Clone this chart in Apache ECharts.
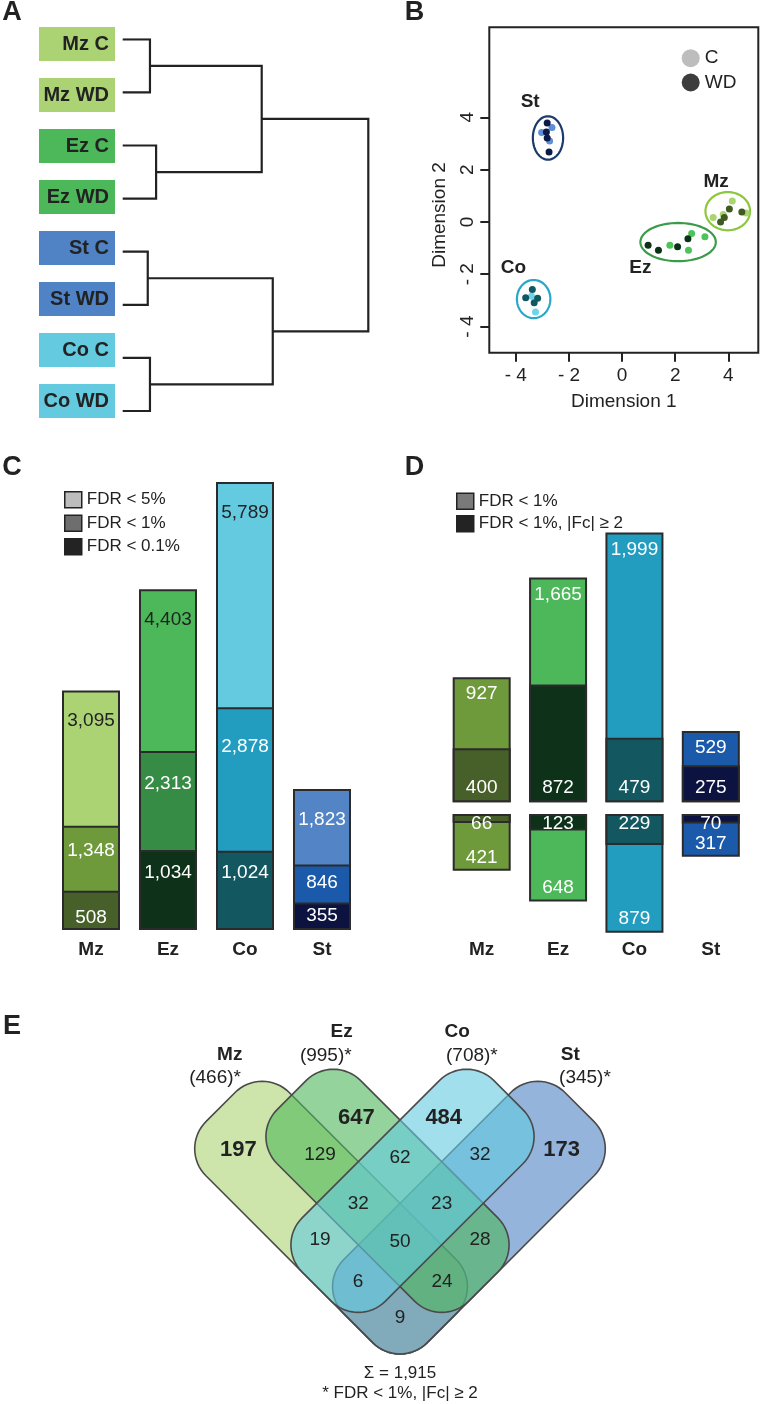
<!DOCTYPE html>
<html>
<head>
<meta charset="utf-8">
<script src="https://cdn.jsdelivr.net/npm/echarts@6/dist/echarts.min.js"></script>
<style>
  html, body { margin: 0; padding: 0; background: #fff; }
  #chart { width: 760px; height: 1404px; }
</style>
</head>
<body>
<div id="chart"></div>
<script>
const FONT = '"Liberation Sans", Arial, Helvetica, sans-serif';
const INK = '#222';

// ---- A: sample clustering ----
const leafNames = ['Mz C', 'Mz WD', 'Ez C', 'Ez WD', 'St C', 'St WD', 'Co C', 'Co WD'];
const leafGroups = ['Mz', 'Mz', 'Ez', 'Ez', 'St', 'St', 'Co', 'Co'];
// hclust style: negative = leaf (1-based), positive = earlier merge
const merges = [[-1, -2], [-3, -4], [1, 2], [-5, -6], [-7, -8], [4, 5], [3, 6]];
const mergeHeights = [0.111, 0.136, 0.566, 0.102, 0.111, 0.611, 1.0];

// ---- B: MDS plot (dimension 1, dimension 2, zone) ----
const mdsC = [
  [-2.64, 3.61, 'St'], [-3.03, 3.42, 'St'], [-2.73, 3.09, 'St'],
  [-3.41, -2.84, 'Co'], [-3.26, -3.44, 'Co'],
  [1.80, -0.89, 'Ez'], [2.62, -0.44, 'Ez'], [2.50, -1.08, 'Ez'], [3.12, -0.57, 'Ez'],
  [3.43, 0.17, 'Mz'], [3.81, 0.28, 'Mz'], [4.15, 0.80, 'Mz'], [4.67, 0.34, 'Mz']
];
const mdsWD = [
  [-2.82, 3.78, 'St'], [-2.85, 3.44, 'St'], [-2.82, 3.21, 'St'], [-2.75, 2.67, 'St'],
  [-3.38, -2.58, 'Co'], [-3.63, -2.90, 'Co'], [-3.18, -2.92, 'Co'], [-3.31, -3.09, 'Co'],
  [0.98, -0.89, 'Ez'], [1.37, -1.08, 'Ez'], [2.09, -0.95, 'Ez'], [2.48, -0.64, 'Ez'],
  [3.71, 0.00, 'Mz'], [3.85, 0.17, 'Mz'], [4.04, 0.49, 'Mz'], [4.51, 0.38, 'Mz']
];
const clusterNames = ['St', 'Co', 'Ez', 'Mz'];
const clusterCentres = [[-2.79, 3.21], [-3.33, -2.95], [2.11, -0.77], [3.98, 0.41]];
const clusterRadii = [[0.57, 0.83], [0.63, 0.73], [1.42, 0.73], [0.84, 0.73]];
const dimTicks = [-4, -2, 0, 2, 4];

// ---- C: DE genes per FDR cut-off ----
const tissues = ['Mz', 'Ez', 'Co', 'St'];
const fdr5 = [3095, 4403, 5789, 1823];
const fdr1 = [1348, 2313, 2878, 846];
const fdr01 = [508, 1034, 1024, 355];

// ---- D: up / down regulated ----
const upAll = [927, 1665, 1999, 529];
const upFc = [400, 872, 479, 275];
const downAll = [421, 648, 879, 317];
const downFc = [66, 123, 229, 70];

// ---- E: venn ----
const vennSets = ['Mz', 'Ez', 'Co', 'St'];
const vennTotals = [466, 995, 708, 345];
const vennCounts = [197, 647, 484, 173, 129, 62, 32, 32, 23, 19, 50, 28, 6, 24, 9];

// ---- colours and layout ----
const shades = {
  Mz: ['#acd373', '#6f9a3c', '#475f28'],
  Ez: ['#4cb85a', '#378c45', '#0d3219'],
  Co: ['#64cae0', '#229dc0', '#135860'],
  St: ['#5284c6', '#1b5aab', '#0c1340']
};
const dotColours = {
  St: ['#5b8fd6', '#0c1a48'], Co: ['#6fd4ea', '#0f5963'],
  Ez: ['#4cc45a', '#0b3219'], Mz: ['#a9d56e', '#3e5b21']
};
const ringColours = ['#1c3a6e', '#2aa6c9', '#3a9b48', '#8cc63f'];
const clusterLabelPos = [[-3.46, 4.58], [-4.09, -1.77], [0.69, -1.77], [3.54, 1.53]];
const dTotalShade = [1, 0, 1, 1];
const cGap1 = [16, 23, 30, 9];
const cGap2 = [18, 13, 13, -1];

// venn geometry in lattice cells (u: down-right, v: down-left)
const CELL = 58.9, VX = 400, VY = 1203.3, VENN_R = 0.65;
const vennBox = [[-3.31, 2, 0, 2], [-2.6, 2, -1, 1], [-1, 1, -2.6, 2], [0, 2, -3.31, 2]];
const vennFill = ['rgba(172,211,115,0.6)', 'rgba(76,184,90,0.6)', 'rgba(98,201,224,0.6)', 'rgba(79,130,197,0.6)'];
const vennDrawOrder = [0, 3, 1, 2];
const vennCells = [[-2.58, 1.3], [-1.55, -0.5], [-0.5, -1.55], [1.3, -2.58], [-1.54, 0.38], [-0.55, -0.55],
  [0.38, -1.54], [-0.5, 0.5], [0.5, -0.5], [-0.52, 1.4], [0.46, 0.46], [1.4, -0.52], [0.44, 1.45], [1.45, 0.44], [1.38, 1.38]];
const vennNamePos = [[-2.89, 2.52], [-0.99, 2.91], [0.97, 2.91], [2.89, 2.52]];
const vennTotalPos = [[-3.14, 2.13], [-1.26, 2.5], [1.22, 2.5], [3.14, 2.13]];

function commas(v) { return String(v).replace(/\B(?=(\d{3})+(?!\d))/g, ','); }
function uv(u, v) { return [(u - v) / Math.SQRT2, -(u + v) / Math.SQRT2]; }

function dendroSegments() {
  const pos = [];
  const nodeY = id => id < 0 ? -id - 1 : pos[id - 1][0];
  const nodeH = id => id < 0 ? 0 : pos[id - 1][1];
  return merges.map((m, i) => {
    const y1 = nodeY(m[0]), y2 = nodeY(m[1]), h = mergeHeights[i];
    const seg = { coords: [[nodeH(m[0]), y1], [h, y1], [h, y2], [nodeH(m[1]), y2]] };
    pos.push([(y1 + y2) / 2, h]);
    return seg;
  });
}

function ellipsePts(cx, cy, rx, ry, n) {
  const pts = [];
  for (let k = 0; k < n; k++) {
    const a = 2 * Math.PI * k / n;
    pts.push([cx + rx * Math.cos(a), cy + ry * Math.sin(a)]);
  }
  return pts;
}

function roundedRect(u0, u1, v0, v1, r, n) {
  const pts = [];
  [[u1 - r, v1 - r, 0], [u0 + r, v1 - r, 90], [u0 + r, v0 + r, 180], [u1 - r, v0 + r, 270]].forEach(([cu, cv, a0]) => {
    for (let k = 0; k <= n; k++) {
      const a = (a0 + 90 * k / n) * Math.PI / 180;
      pts.push([cu + r * Math.cos(a), cv + r * Math.sin(a)]);
    }
  });
  return pts;
}

const richLeaf = {};
tissues.forEach(t => {
  richLeaf[t] = {
    backgroundColor: shades[t][0], width: 70, height: 34, lineHeight: 34, padding: [0, 6, 0, 0],
    align: 'right', fontSize: 20, fontWeight: 'bold', color: INK, fontFamily: FONT
  };
});
richLeaf.St.backgroundColor = '#4f83c6';

function barLabel(pos, gap, colour) {
  return {
    show: true, position: gap < 0 ? 'inside' : pos, distance: Math.max(gap, 0),
    fontSize: 19, color: colour, fontFamily: FONT, formatter: p => commas(p.value)
  };
}

function cSeries(name, values, shade, gaps, colourFn) {
  return {
    name, type: 'bar', xAxisIndex: 3, yAxisIndex: 3, barWidth: 58, barGap: '-100%',
    itemStyle: { borderColor: '#2b2b2b', borderWidth: 2 },
    data: values.map((v, i) => ({
      value: v,
      itemStyle: { color: shades[tissues[i]][shade] },
      label: barLabel('insideTop', gaps[i], colourFn(i))
    }))
  };
}

function dSeries(name, values, grid, colourFn, pos, gap) {
  return {
    name, type: 'bar', xAxisIndex: grid, yAxisIndex: grid, barWidth: 58, barGap: '-100%',
    itemStyle: { borderColor: '#2b2b2b', borderWidth: 2 },
    data: values.map((v, i) => ({
      value: v,
      itemStyle: { color: colourFn(i) },
      label: barLabel(pos, gap, '#fff')
    }))
  };
}

const xB = { min: -5.0, max: 5.13 };
const yB = { min: -5.0, max: 7.44 };
const vennX = { min: -VX / CELL, max: (760 - VX) / CELL };
const vennY = { min: (VY - 1404) / CELL, max: (VY - 960) / CELL };
const axisBase = {
  axisLine: { show: false, onZero: false },
  splitLine: { show: false },
  axisTick: { show: true, customValues: dimTicks, length: 9, lineStyle: { color: INK, width: 2 } },
  nameLocation: 'middle',
  nameTextStyle: { fontSize: 19, color: INK, fontFamily: FONT }
};
const tickFmt = v => v < 0 ? '- ' + Math.abs(v) : String(v);

const catAxis = (grid, margin, show) => ({
  gridIndex: grid, type: 'category', data: tissues,
  axisLine: { show: false }, axisTick: { show: false },
  axisLabel: { show, margin, fontSize: 19, fontWeight: 'bold', color: INK, fontFamily: FONT, interval: 0 }
});

const textDot = { color: 'rgba(0,0,0,0)', opacity: 1 };

const option = {
  animation: false,
  backgroundColor: '#fff',
  textStyle: { fontFamily: FONT },
  grid: [
    { left: 115, top: 18.5, width: 1, height: 408, outerBoundsMode: 'none' },
    { left: 122.7, top: 39.3, width: 245.6, height: 371.7, outerBoundsMode: 'none' },
    { left: 489.3, top: 27.3, width: 269, height: 325.4, show: true, borderColor: INK, borderWidth: 2, outerBoundsMode: 'none' },
    { left: 52.5, top: 465.6, width: 308, height: 464.4, outerBoundsMode: 'none' },
    { left: 443.5, top: 532.3, width: 305.5, height: 270, outerBoundsMode: 'none' },
    { left: 443.5, top: 814, width: 305.5, height: 121.5, outerBoundsMode: 'none' },
    { left: 0, top: 960, width: 760, height: 444, outerBoundsMode: 'none' }
  ],
  xAxis: [
    { gridIndex: 0, type: 'value', show: false },
    { gridIndex: 1, type: 'value', min: 0, max: 1, show: false },
    Object.assign({}, axisBase, {
      gridIndex: 2, type: 'value', min: xB.min, max: xB.max, position: 'bottom',
      axisLabel: { customValues: dimTicks, formatter: tickFmt, margin: 14, fontSize: 19, color: INK, fontFamily: FONT },
      name: 'Dimension 1', nameGap: 40
    }),
    catAxis(3, 10, true),
    catAxis(4, 0, false),
    catAxis(5, 5, true),
    { gridIndex: 6, type: 'value', min: vennX.min, max: vennX.max, show: false }
  ],
  yAxis: [
    {
      gridIndex: 0, type: 'category', data: leafNames, inverse: true,
      axisLine: { show: false }, axisTick: { show: false },
      axisLabel: { interval: 0, margin: 0, formatter: (v, i) => '{' + leafGroups[i] + '|' + v + '}', rich: richLeaf }
    },
    { gridIndex: 1, type: 'value', min: 0, max: 7, inverse: true, show: false },
    Object.assign({}, axisBase, {
      gridIndex: 2, type: 'value', min: yB.min, max: yB.max, position: 'left',
      axisLabel: { customValues: dimTicks, formatter: tickFmt, rotate: 90, margin: 12, fontSize: 19, color: INK, fontFamily: FONT },
      name: 'Dimension 2', nameGap: 40, nameRotate: 90,
      nameTextStyle: { fontSize: 19, color: INK, fontFamily: FONT, padding: [0, 50, 0, 0] }
    }),
    { gridIndex: 3, type: 'value', min: 0, max: 6000, show: false },
    { gridIndex: 4, type: 'value', min: 0, max: 2000, show: false },
    { gridIndex: 5, type: 'value', min: 0, max: 900, inverse: true, show: false },
    { gridIndex: 6, type: 'value', min: vennY.min, max: vennY.max, show: false }
  ],
  legend: [
    {
      left: 676.7, top: 43.7, orient: 'vertical', icon: 'circle', itemWidth: 18, itemHeight: 18, itemGap: 5.3,
      selectedMode: false, textStyle: { fontSize: 19, color: INK, fontFamily: FONT },
      data: [{ name: 'C', itemStyle: { color: '#bdbdbd' } }, { name: 'WD', itemStyle: { color: '#3d3d3d' } }]
    },
    {
      left: 59, top: 486, orient: 'vertical', icon: 'rect', itemWidth: 17, itemHeight: 16, itemGap: 6,
      selectedMode: false, textStyle: { fontSize: 17, color: INK, fontFamily: FONT },
      data: [
        { name: 'FDR < 5%', itemStyle: { color: '#bdbdbd', borderColor: INK, borderWidth: 1.5 } },
        { name: 'FDR < 1%', itemStyle: { color: '#6e6e6e', borderColor: INK, borderWidth: 1.5 } },
        { name: 'FDR < 0.1%', itemStyle: { color: '#232323', borderColor: INK, borderWidth: 1.5 } }
      ]
    },
    {
      left: 451, top: 487.5, orient: 'vertical', icon: 'rect', itemWidth: 17, itemHeight: 16, itemGap: 5,
      selectedMode: false, textStyle: { fontSize: 17, color: INK, fontFamily: FONT },
      data: [
        { name: 'FDR < 1%', itemStyle: { color: '#7a7a7a', borderColor: INK, borderWidth: 1.5 } },
        { name: 'FDR < 1%, |Fc| ≥ 2', itemStyle: { color: '#232323', borderColor: INK, borderWidth: 1.5 } }
      ]
    }
  ],
  graphic: [
    ...[['A', 12, 13], ['B', 414.5, 12.5], ['C', 12, 467.5], ['D', 414.5, 467.5], ['E', 12, 1027]].map(([t, x, y]) => ({
      type: 'text', x, y,
      style: { text: t, fontSize: 27, fontWeight: 'bold', fontFamily: FONT, fill: INK, align: 'center', verticalAlign: 'middle' }
    })),
    {
      type: 'text', x: 400, y: 1373,
      style: { text: 'Σ = ' + commas(vennCounts.reduce((a, b) => a + b, 0)), fontSize: 17, fontFamily: FONT, fill: INK, align: 'center', verticalAlign: 'middle' }
    },
    {
      type: 'text', x: 400, y: 1393,
      style: { text: '* FDR < 1%, |Fc| ≥ 2', fontSize: 17, fontFamily: FONT, fill: INK, align: 'center', verticalAlign: 'middle' }
    }
  ],
  series: [
    {
      type: 'lines', coordinateSystem: 'cartesian2d', xAxisIndex: 1, yAxisIndex: 1, polyline: true, silent: true,
      lineStyle: { color: INK, width: 2.2, opacity: 1 },
      data: dendroSegments()
    },
    {
      name: 'C', type: 'scatter', xAxisIndex: 2, yAxisIndex: 2, symbolSize: 7, data: mdsC, z: 3,
      itemStyle: { color: p => dotColours[p.data[2]][0], opacity: 1 }
    },
    {
      name: 'WD', type: 'scatter', xAxisIndex: 2, yAxisIndex: 2, symbolSize: 7, data: mdsWD, z: 3,
      itemStyle: { color: p => dotColours[p.data[2]][1], opacity: 1 }
    },
    {
      type: 'custom', xAxisIndex: 2, yAxisIndex: 2, silent: true, z: 2,
      data: clusterNames.map((n, i) => [clusterCentres[i][0], clusterCentres[i][1], clusterRadii[i][0], clusterRadii[i][1]]),
      encode: { x: 0, y: 1 },
      renderItem: (params, api) => {
        const i = params.dataIndex;
        const pts = ellipsePts(api.value(0), api.value(1), api.value(2), api.value(3), 72).map(p => api.coord(p));
        const lp = api.coord(clusterLabelPos[i]);
        return {
          type: 'group',
          children: [
            { type: 'polygon', shape: { points: pts }, style: { fill: 'none', stroke: ringColours[i], lineWidth: 2.2 } },
            {
              type: 'text', x: lp[0], y: lp[1],
              style: { text: clusterNames[i], fontSize: 19, fontWeight: 'bold', fontFamily: FONT, fill: INK, align: 'center', verticalAlign: 'middle' }
            }
          ]
        };
      }
    },
    cSeries('FDR < 5%', fdr5, 0, [21, 21, 21, 21], i => i === 3 ? '#fff' : INK),
    cSeries('FDR < 1%', fdr1, 1, cGap1, () => '#fff'),
    cSeries('FDR < 0.1%', fdr01, 2, cGap2, () => '#fff'),
    dSeries('FDR < 1%', upAll, 4, i => shades[tissues[i]][dTotalShade[i]], 'insideTop', 7.5),
    dSeries('FDR < 1%, |Fc| ≥ 2', upFc, 4, i => shades[tissues[i]][2], 'insideBottom', 5.5),
    dSeries('FDR < 1%', downAll, 5, i => shades[tissues[i]][dTotalShade[i]], 'insideBottom', 4),
    dSeries('FDR < 1%, |Fc| ≥ 2', downFc, 5, i => shades[tissues[i]][2], 'insideTop', 0.5),
    {
      type: 'custom', xAxisIndex: 6, yAxisIndex: 6, silent: true, z: 2,
      data: vennDrawOrder.map(i => [0, 0, i]),
      encode: { x: 0, y: 1 },
      renderItem: (params, api) => {
        const i = api.value(2);
        const [u0, u1, v0, v1] = vennBox[i];
        const pts = roundedRect(u0, u1, v0, v1, VENN_R, 16).map(([u, v]) => api.coord(uv(u, v)));
        return { type: 'polygon', shape: { points: pts }, style: { fill: vennFill[i], stroke: '#4a4a4a', lineWidth: 1.6 } };
      }
    },
    {
      type: 'scatter', xAxisIndex: 6, yAxisIndex: 6, silent: true, symbolSize: 1, z: 4,
      itemStyle: textDot,
      data: vennCells.map((c, k) => ({
        value: uv(c[0], c[1]),
        label: {
          show: true, position: 'inside', color: INK, fontFamily: FONT,
          fontSize: k < 4 ? 22 : 19, fontWeight: k < 4 ? 'bold' : 'normal',
          formatter: () => String(vennCounts[k])
        }
      }))
    },
    {
      type: 'scatter', xAxisIndex: 6, yAxisIndex: 6, silent: true, symbolSize: 1, z: 4,
      itemStyle: textDot,
      data: vennSets.map((s, i) => ({
        value: vennNamePos[i],
        label: { show: true, position: 'inside', color: INK, fontFamily: FONT, fontSize: 19, fontWeight: 'bold', formatter: () => s }
      })).concat(vennTotals.map((t, i) => ({
        value: vennTotalPos[i],
        label: { show: true, position: 'inside', color: INK, fontFamily: FONT, fontSize: 19, formatter: () => '(' + t + ')*' }
      })))
    }
  ]
};

const chart = echarts.init(document.getElementById('chart'), null, { renderer: 'canvas' });
chart.setOption(option);
</script>
</body>
</html>
